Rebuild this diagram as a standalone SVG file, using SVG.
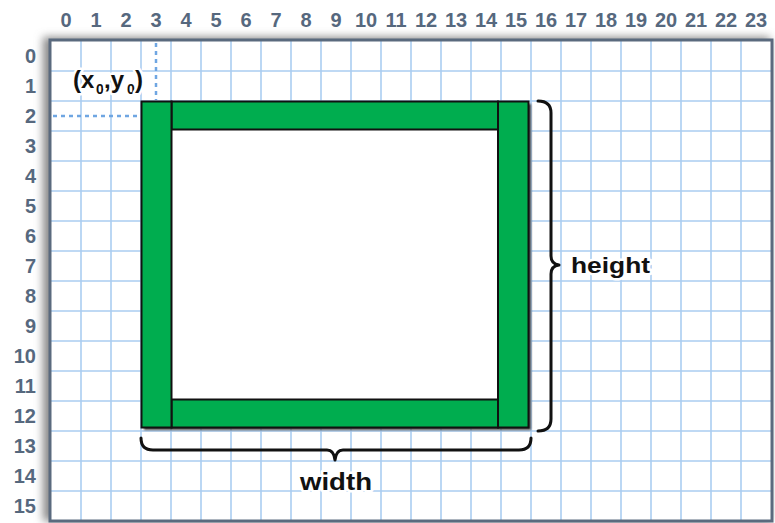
<svg xmlns="http://www.w3.org/2000/svg" width="775" height="523" viewBox="0 0 775 523">
<defs>
<style>
.grid line{stroke:#aacdf1;stroke-width:1.6}
.num{font-family:"Liberation Sans",Arial,sans-serif;font-weight:bold;font-size:20px;fill:#56687e}
.col{text-anchor:middle}
.row{text-anchor:end}
.lbl{font-family:"Liberation Sans",Arial,sans-serif;font-weight:bold;fill:#111;stroke:#fff;stroke-width:5;stroke-linejoin:round;paint-order:stroke}
.green{fill:#00ad4f;stroke:#111;stroke-width:2}
.brace{fill:none;stroke:#111;stroke-width:3;stroke-linecap:round;stroke-linejoin:round}
.dot{stroke:#6fa6e2;stroke-width:2.5;stroke-dasharray:4 4}
</style>
<filter id="blur" x="-10%" y="-10%" width="120%" height="120%"><feGaussianBlur stdDeviation="4"/></filter>
<filter id="sh" x="-5%" y="-5%" width="110%" height="110%"><feGaussianBlur stdDeviation="0.8"/></filter>
</defs>
<rect width="775" height="523" fill="#fff"/>
<g id="frame-shadow"><rect x="43" y="37" width="727" height="484" fill="#8a8a8a" filter="url(#blur)"/></g>
<g id="paper"><rect x="50" y="40" width="722" height="481" fill="#fff"/></g>
<g id="grid" class="grid">
<line x1="81" y1="41" x2="81" y2="521"/><line x1="111" y1="41" x2="111" y2="521"/><line x1="141" y1="41" x2="141" y2="521"/><line x1="171" y1="41" x2="171" y2="521"/><line x1="201" y1="41" x2="201" y2="521"/><line x1="231" y1="41" x2="231" y2="521"/><line x1="261" y1="41" x2="261" y2="521"/><line x1="291" y1="41" x2="291" y2="521"/><line x1="321" y1="41" x2="321" y2="521"/><line x1="351" y1="41" x2="351" y2="521"/><line x1="381" y1="41" x2="381" y2="521"/><line x1="411" y1="41" x2="411" y2="521"/><line x1="441" y1="41" x2="441" y2="521"/><line x1="471" y1="41" x2="471" y2="521"/><line x1="501" y1="41" x2="501" y2="521"/><line x1="531" y1="41" x2="531" y2="521"/><line x1="561" y1="41" x2="561" y2="521"/><line x1="591" y1="41" x2="591" y2="521"/><line x1="621" y1="41" x2="621" y2="521"/><line x1="651" y1="41" x2="651" y2="521"/><line x1="681" y1="41" x2="681" y2="521"/><line x1="711" y1="41" x2="711" y2="521"/><line x1="741" y1="41" x2="741" y2="521"/>
<line x1="51" y1="71" x2="771" y2="71"/><line x1="51" y1="101" x2="771" y2="101"/><line x1="51" y1="131" x2="771" y2="131"/><line x1="51" y1="161" x2="771" y2="161"/><line x1="51" y1="191" x2="771" y2="191"/><line x1="51" y1="221" x2="771" y2="221"/><line x1="51" y1="251" x2="771" y2="251"/><line x1="51" y1="281" x2="771" y2="281"/><line x1="51" y1="311" x2="771" y2="311"/><line x1="51" y1="341" x2="771" y2="341"/><line x1="51" y1="371" x2="771" y2="371"/><line x1="51" y1="401" x2="771" y2="401"/><line x1="51" y1="431" x2="771" y2="431"/><line x1="51" y1="461" x2="771" y2="461"/><line x1="51" y1="491" x2="771" y2="491"/>
</g>
<g id="border"><rect x="50" y="40" width="722" height="481" fill="none" stroke="#5a6a7e" stroke-width="3"/></g>
<g id="col-labels" class="num col">
<text x="66" y="27">0</text><text x="96" y="27">1</text><text x="126" y="27">2</text><text x="156" y="27">3</text><text x="186" y="27">4</text><text x="216" y="27">5</text><text x="246" y="27">6</text><text x="276" y="27">7</text><text x="306" y="27">8</text><text x="336" y="27">9</text><text x="366" y="27">10</text><text x="396" y="27">11</text><text x="426" y="27">12</text><text x="456" y="27">13</text><text x="486" y="27">14</text><text x="516" y="27">15</text><text x="546" y="27">16</text><text x="576" y="27">17</text><text x="606" y="27">18</text><text x="636" y="27">19</text><text x="666" y="27">20</text><text x="696" y="27">21</text><text x="726" y="27">22</text><text x="756" y="27">23</text>
</g>
<g id="row-labels" class="num row">
<text x="36" y="63">0</text><text x="36" y="93">1</text><text x="36" y="123">2</text><text x="36" y="153">3</text><text x="36" y="183">4</text><text x="36" y="213">5</text><text x="36" y="243">6</text><text x="36" y="273">7</text><text x="36" y="303">8</text><text x="36" y="333">9</text><text x="36" y="363">10</text><text x="36" y="393">11</text><text x="36" y="423">12</text><text x="36" y="453">13</text><text x="36" y="483">14</text><text x="36" y="513">15</text>
</g>
<g id="guides">
<line class="dot" x1="156" y1="43" x2="156" y2="100"/>
<line class="dot" x1="53" y1="116" x2="140" y2="116"/>
</g>
<g id="origin-label">
<text class="lbl" font-size="24"><tspan x="73" y="88">(x</tspan><tspan x="96" y="94" font-size="14">0</tspan><tspan x="104" y="88">,y</tspan><tspan x="127" y="94" font-size="14">0</tspan><tspan x="135" y="88">)</tspan></text>
</g>
<g id="rect-shadow"><rect x="144" y="104" width="387" height="326" fill="#444" filter="url(#sh)"/></g>
<g id="rectangle">
<rect x="141.5" y="101.5" width="387" height="326" fill="#fff"/>
<rect class="green" x="171.5" y="101.5" width="326.5" height="28"/>
<rect class="green" x="171.5" y="399.5" width="326.5" height="28"/>
<rect class="green" x="141.5" y="101.5" width="30" height="326"/>
<rect class="green" x="498" y="101.5" width="30.5" height="326"/>
</g>
<g id="connectors">
<path class="brace" d="M538,101 Q551,101 551,113 L551,256 Q551,264 559,265 Q551,266 551,274 L551,419 Q551,431 538,431"/>
<path class="brace" d="M141,438 Q141,450 153,450 L327,450 Q334,450 335,460 Q336,450 343,450 L519,450 Q531,450 531,438"/>
</g>
<g id="height-label"><text class="lbl" x="571" y="273" font-size="22" textLength="79" lengthAdjust="spacingAndGlyphs">height</text></g>
<g id="width-label"><text class="lbl" x="300" y="490" font-size="24" textLength="72" lengthAdjust="spacingAndGlyphs">width</text></g>
</svg>
